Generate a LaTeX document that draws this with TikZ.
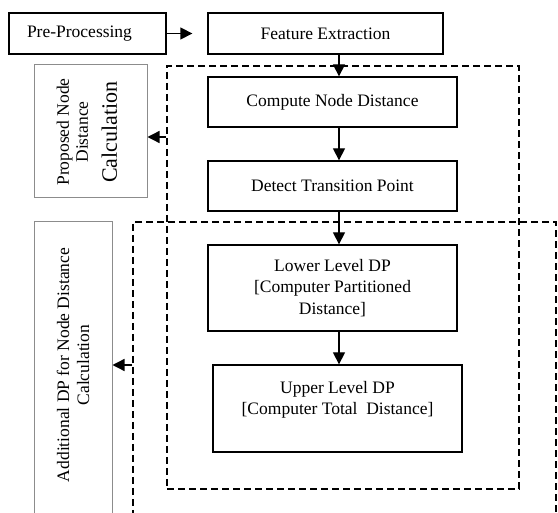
\documentclass[tikz,border=0pt]{standalone}
\usepackage{fontspec}
\setmainfont{Liberation Serif}
\usetikzlibrary{arrows.meta}
\begin{document}
\begin{tikzpicture}[x=1pt,y=-1pt,
  box/.style={draw=black, line width=1.3pt, inner sep=2pt, align=center,
    font=\fontsize{17.5}{21.5}\selectfont},
  graybox/.style={draw=black!45, line width=1pt},
  dbox/.style={draw=black, line width=1.3pt, dash pattern=on 7pt off 4pt},
  arr/.style={line width=1.3pt, -{Triangle[length=12pt,width=12pt]}},
  sidetext/.style={rotate=90, align=center, inner sep=0pt}]
\useasboundingbox (0,0) rectangle (558,513);
\clip (0,0) rectangle (558,513);

% dashed grouping frames
\node[dbox, minimum width=352pt, minimum height=423pt] (d1) at (343,277.5) {};
\node[dbox, minimum width=423pt, minimum height=318pt] (d2) at (344.5,381) {};

% side panels
\node[graybox, minimum width=113pt, minimum height=133pt] (prop) at (90.5,131.5) {};
\node[graybox, minimum width=78pt, minimum height=318pt] (addl) at (73,381) {};
\node[sidetext, font=\fontsize{17.5}{19}\selectfont] (proptext) at (87,132)
  {Proposed Node\\Distance\\[10pt]{\fontsize{22}{26}\selectfont Calculation}};
\node[sidetext, font=\fontsize{17.5}{20}\selectfont] (addltext) at (73,365)
  {Additional DP for Node Distance\\Calculation};

% process steps
\node[box, minimum width=157pt, minimum height=41pt] (pp) at (87.5,33.5)
  {Pre-Processing\hspace*{16pt}};
\node[box, minimum width=235pt, minimum height=41pt] (fe) at (325.5,33.5) {Feature Extraction};
\node[box, minimum width=249pt, minimum height=50pt] (cnd) at (332.5,102) {Compute Node Distance};
\node[box, minimum width=249pt, minimum height=50pt] (dtp) at (332.5,186) {Detect Transition Point};
\node[box, minimum width=249pt, minimum height=86pt] (lld) at (332.5,288)
  {Lower Level DP\\{}[Computer Partitioned\\Distance]};
\node[box, minimum width=249pt, minimum height=87pt] (uld) at (337.5,408.5)
  {Upper Level DP\\{}[Computer Total~ Distance]\\\mbox{}};

% connectors
\coordinate (spine) at (339,0);
\coordinate (ya) at (0,137);
\coordinate (yb) at (0,365);
\draw[arr, shorten >=15pt] (pp.east) -- (fe.west);
\draw[arr] (fe.south -| spine) -- (cnd.north -| spine);
\draw[arr] (cnd.south -| spine) -- (dtp.north -| spine);
\draw[arr] (dtp.south -| spine) -- (lld.north -| spine);
\draw[arr] (lld.south -| spine) -- (uld.north -| spine);
\draw[arr] (d1.west |- ya) -- (prop.east |- ya);
\draw[arr] (d2.west |- yb) -- (addl.east |- yb);
\end{tikzpicture}
\end{document}
